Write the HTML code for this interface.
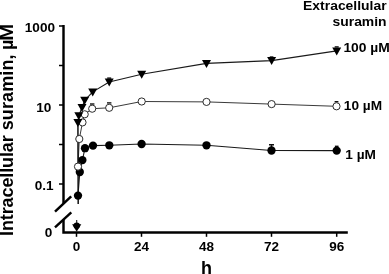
<!DOCTYPE html>
<html><head><meta charset="utf-8"><title>Intracellular suramin</title>
<style>
html,body{margin:0;padding:0;background:#fff;}
body{width:389px;height:274px;overflow:hidden;}
svg{display:block;}
text{font-family:"Liberation Sans",Arial,Helvetica,sans-serif;font-weight:bold;fill:#000;}
</style></head><body>
<svg width="389" height="274" viewBox="0 0 389 274">
<rect width="389" height="274" fill="#fff"/>

<g stroke="#000" stroke-width="2.45" fill="none" stroke-linecap="butt">
<path d="M63.5 25 V203.5"/>
<path d="M63.5 219.5 V232.5 H347.8" stroke-linejoin="miter"/>
<path d="M55 211.6 L71.2 196.4"/>
<path d="M55 227.4 L71.3 212.4"/>
</g>
<g stroke="#000" stroke-width="1.5" fill="none">
<path d="M59 26 H63"/>
<path d="M59 65.5 H63"/>
<path d="M59 105 H63"/>
<path d="M59 144.5 H63"/>
<path d="M59 184 H63"/>
<path d="M76.5 232 V236.8"/>
<path d="M141.5 232 V236.8"/>
<path d="M206.5 232 V236.8"/>
<path d="M271.5 232 V236.8"/>
<path d="M336.7 232 V236.8"/>
</g>
<g stroke="#1a1a1a" stroke-width="1.1" fill="none" stroke-linejoin="round">
<polyline points="78.0,166.6 79.3,139.0 82.5,122.4 84.7,114.3 92.2,108.7 109.2,107.8 141.7,101.5 206.5,101.9 271.6,104.1 336.5,106.3" stroke="#3a3a3a" stroke-width="1"/>
<polyline points="77.9,122.4 78.8,115.8 82.0,107.5 84.7,100.3 92.7,91.9 109.2,82.0 141.7,74.3 206.5,63.4 271.6,60.6 336.7,50.9"/>
<polyline points="78.0,195.6 79.8,172.0 82.4,160.1 85.0,148.2 93.0,145.6 109.3,145.3 141.6,144.0 206.5,145.3 271.5,150.5 336.7,150.6"/>
<path d="M77.9 123 L78.2 204" stroke="#111" stroke-width="1.5"/>
<path d="M76.7 220 V226"/>
</g>
<g stroke="#111" stroke-width="1.4" fill="none">
<path d="M90 104 H94.4"/>
<path d="M107 102.9 H111.4"/>
<path d="M334.6 101.7 H338.4"/>
<path d="M271.5 144.8 V150 M269 144.8 H274"/>
<path d="M107.2 78.1 H111.2"/>
<path d="M269.8 57.0 H273.4"/>
<path d="M334.7 46.9 H338.7"/>
<path d="M334.9 146.3 H338.5"/>
</g>
<g fill="#000" stroke="none">
<circle cx="78.0" cy="195.6" r="4.15"/>
<circle cx="79.8" cy="172.0" r="4.15"/>
<circle cx="82.4" cy="160.1" r="4.15"/>
<circle cx="85.0" cy="148.2" r="4.15"/>
<circle cx="93.0" cy="145.6" r="4.15"/>
<circle cx="109.3" cy="145.3" r="4.15"/>
<circle cx="141.6" cy="144.0" r="4.15"/>
<circle cx="206.5" cy="145.3" r="4.15"/>
<circle cx="271.5" cy="150.5" r="4.15"/>
<circle cx="336.7" cy="150.6" r="4.15"/>
</g>
<g fill="#fff" stroke="#222" stroke-width="0.95">
<circle cx="78.0" cy="166.6" r="3.6"/>
<circle cx="79.3" cy="139.0" r="3.6"/>
<circle cx="82.5" cy="122.4" r="3.6"/>
<circle cx="84.7" cy="114.3" r="3.6"/>
<circle cx="92.2" cy="108.7" r="3.6"/>
<circle cx="109.2" cy="107.8" r="3.6"/>
<circle cx="141.7" cy="101.5" r="3.6"/>
<circle cx="206.5" cy="101.9" r="3.6"/>
<circle cx="271.6" cy="104.1" r="3.6"/>
<circle cx="336.5" cy="106.3" r="3.6"/>
</g>
<g fill="#000" stroke="none">
<path d="M73.4 118.9 H82.4 L77.9 126.9 Z"/>
<path d="M74.3 112.3 H83.3 L78.8 120.3 Z"/>
<path d="M77.5 104.0 H86.5 L82.0 112.0 Z"/>
<path d="M80.2 96.8 H89.2 L84.7 104.8 Z"/>
<path d="M88.2 88.4 H97.2 L92.7 96.4 Z"/>
<path d="M104.7 78.5 H113.7 L109.2 86.5 Z"/>
<path d="M137.2 70.8 H146.2 L141.7 78.8 Z"/>
<path d="M202.0 59.9 H211.0 L206.5 67.9 Z"/>
<path d="M267.1 57.1 H276.1 L271.6 65.1 Z"/>
<path d="M332.2 47.4 H341.2 L336.7 55.4 Z"/>
<path d="M72.1 224.2 H81.3 L76.7 231.8 Z"/><circle cx="76.7" cy="225.6" r="3.2"/>
</g>
<text transform="translate(386.6 9.5) scale(1.105 1)" font-size="12.6" text-anchor="end">Extracellular</text>
<text transform="translate(386.6 25.9) scale(1.105 1)" font-size="12.6" text-anchor="end">suramin</text>
<text transform="translate(343.4 51.9) scale(1.1 1)" font-size="12.6" text-anchor="start">100 µM</text>
<text transform="translate(343.8 110.3) scale(1.085 1)" font-size="12.6" text-anchor="start">10 µM</text>
<text transform="translate(345.3 158.6) scale(1.085 1)" font-size="12.6" text-anchor="start">1 µM</text>
<text transform="translate(55 32.1) scale(1.03 1)" font-size="13.2" text-anchor="end">1000</text>
<text transform="translate(51.4 111.5) scale(1.03 1)" font-size="13.2" text-anchor="end">10</text>
<text transform="translate(53.6 190.4) scale(1.03 1)" font-size="13.2" text-anchor="end">0.1</text>
<text transform="translate(52.3 237) scale(1.03 1)" font-size="13.2" text-anchor="end">0</text>
<text transform="translate(76.5 251.3) scale(1.1 1)" font-size="12.3" text-anchor="middle">0</text>
<text transform="translate(141.5 251.3) scale(1.1 1)" font-size="12.3" text-anchor="middle">24</text>
<text transform="translate(206.5 251.3) scale(1.1 1)" font-size="12.3" text-anchor="middle">48</text>
<text transform="translate(271.5 251.3) scale(1.1 1)" font-size="12.3" text-anchor="middle">72</text>
<text transform="translate(336.7 251.3) scale(1.1 1)" font-size="12.3" text-anchor="middle">96</text>
<text transform="translate(206.5 274) scale(1 1)" font-size="18" text-anchor="middle">h</text>
<text transform="translate(13.1 0) rotate(-90)" font-size="18" xml:space="preserve"><tspan x="-235.9" letter-spacing="-0.125">Intracellular </tspan><tspan x="-130.3" letter-spacing="0.115">suramin, </tspan><tspan x="-50.1">µ</tspan><tspan x="-40.7" textLength="16.9" lengthAdjust="spacingAndGlyphs">M</tspan></text>
</svg></body></html>
